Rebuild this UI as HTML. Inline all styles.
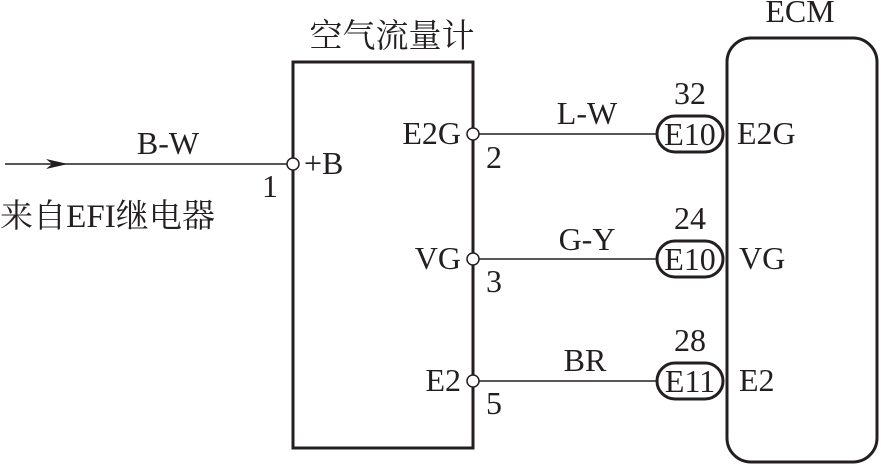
<!DOCTYPE html>
<html><head><meta charset="utf-8"><style>
html,body{margin:0;padding:0;background:#fff;}
svg{display:block;}
text{font-family:"Liberation Serif","Noto Serif CJK SC",serif;font-size:32px;fill:#231f20;}
.c{font-size:33px;}
</style></head><body>
<svg width="881" height="467" viewBox="0 0 881 467" xmlns="http://www.w3.org/2000/svg">
<g stroke="#231f20" fill="none">
<rect x="293" y="62" width="180" height="386" stroke-width="3"/>
<rect x="727" y="38" width="150" height="424" rx="24" stroke-width="3"/>
<line x1="5" y1="164" x2="287" y2="164" stroke-width="1.5"/>
<line x1="479" y1="134" x2="657" y2="134" stroke-width="1.5"/>
<line x1="479" y1="259" x2="657" y2="259" stroke-width="1.5"/>
<line x1="479" y1="381" x2="657" y2="381" stroke-width="1.5"/>
<rect x="657" y="116" width="66" height="36" rx="18" stroke-width="3"/>
<rect x="657" y="241" width="66" height="36" rx="18" stroke-width="3"/>
<rect x="657" y="363" width="66" height="36" rx="18" stroke-width="3"/>
<g fill="#fff" stroke-width="1.5">
<circle cx="293" cy="164" r="6"/>
<circle cx="473" cy="134" r="6"/>
<circle cx="473" cy="259" r="6"/>
<circle cx="473" cy="381" r="6"/>
</g>
</g>
<path d="M46 159 L68 164 L46 169 L52 164 Z" fill="#231f20"/>
<text x="800" y="22" text-anchor="middle">ECM</text>
<text class="c" x="392" y="47" text-anchor="middle" textLength="165" lengthAdjust="spacingAndGlyphs">空气流量计</text>
<text x="168" y="154" text-anchor="middle">B-W</text>
<text class="c" x="0" y="227" textLength="215" lengthAdjust="spacingAndGlyphs">来自EFI继电器</text>
<text x="262" y="197">1</text>
<text x="304" y="174">+B</text>
<text x="461" y="144" text-anchor="end">E2G</text>
<text x="461" y="269" text-anchor="end">VG</text>
<text x="461" y="391" text-anchor="end">E2</text>
<text x="486" y="168">2</text>
<text x="486" y="292">3</text>
<text x="486" y="414">5</text>
<text x="587" y="124" text-anchor="middle">L-W</text>
<text x="587" y="250" text-anchor="middle">G-Y</text>
<text x="585" y="371" text-anchor="middle">BR</text>
<text x="690" y="104" text-anchor="middle">32</text>
<text x="690" y="229" text-anchor="middle">24</text>
<text x="690" y="351" text-anchor="middle">28</text>
<text x="690" y="145" text-anchor="middle">E10</text>
<text x="690" y="270" text-anchor="middle">E10</text>
<text x="690" y="392" text-anchor="middle">E11</text>
<text x="737" y="144">E2G</text>
<text x="739" y="269">VG</text>
<text x="739" y="391">E2</text>
</svg>
</body></html>
